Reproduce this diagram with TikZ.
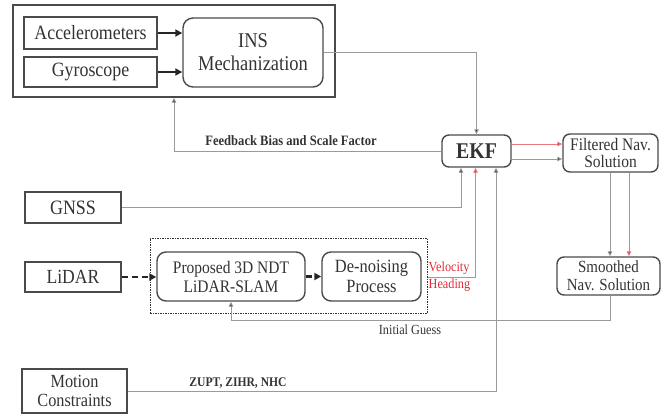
\documentclass[tikz,border=0pt]{standalone}
\usepackage{fontspec}
\setmainfont{Liberation Serif}
\newfontfamily\tallserif[FakeStretch=0.88]{Liberation Serif}
\usetikzlibrary{arrows.meta,calc}
\definecolor{txt}{HTML}{333333}
\definecolor{bord}{HTML}{4A4A4A}
\definecolor{conn}{HTML}{9A9A9A}
\definecolor{redtip}{HTML}{E02A35}
\definecolor{redline}{HTML}{E77A80}
\newcommand{\fs}[2]{\fontsize{#1}{#2}\selectfont}
\newcommand{\tfs}[2]{\tallserif\fontsize{#1}{#2}\selectfont}
\tikzset{
  box/.style={draw=bord, line width=1.4pt, text=txt, align=center, inner sep=0pt},
  rbox/.style={box, rounded corners=7pt},
  conline/.style={draw=conn, line width=0.9pt, -{Triangle[length=5pt,width=4.5pt,fill=black!85]}},
  redconn/.style={draw=redline, line width=0.9pt, -{Triangle[length=5pt,width=4.5pt,fill=redtip]}},
  fatarrow/.style={draw=black!85, line width=2.4pt, -{Triangle[length=7pt,width=7pt]}},
  fatdash/.style={fatarrow, dash pattern=on 6pt off 4pt},
  lbl/.style={text=txt, inner sep=0pt},
}
\begin{document}
\begin{tikzpicture}[x=1pt,y=-1pt]
\useasboundingbox (0,0) rectangle (670,416);
% top group
\node[box, minimum width=322pt, minimum height=92pt] (outer) at (174,51) {};
\node[box, minimum width=133pt, minimum height=32pt, font=\tfs{20.3}{22}] (acc) at (90.5,33) {Accelerometers};
\node[box, minimum width=133pt, minimum height=30pt, font=\tfs{20.3}{22}] (gyro) at (90.5,72) {Gyroscope};
\node[rbox, minimum width=140pt, minimum height=69pt, font=\tfs{21}{23}, rounded corners=10pt] (ins) at (253,52.5) {INS\\Mechanization};
% EKF and solutions
\node[rbox, minimum width=69pt, minimum height=32pt, font=\bfseries\tfs{22.5}{24}] (ekf) at (476.5,151) {EKF};
\node[rbox, minimum width=95pt, minimum height=38pt, font=\tfs{17.6}{17.5}] (filt) at (610.5,153) {Filtered Nav.\\Solution};
\node[rbox, minimum width=103pt, minimum height=38pt, font=\tfs{17}{18}] (smooth) at (608.5,276) {Smoothed\\Nav. Solution};
% sensors
\node[box, minimum width=96pt, minimum height=31pt, font=\tfs{20.4}{22}] (gnss) at (73,207.5) {GNSS};
\node[box, minimum width=96pt, minimum height=30pt, font=\tfs{20}{22}] (lidar) at (73,277) {LiDAR};
\node[box, minimum width=105pt, minimum height=44pt, font=\tfs{18.5}{19.5}] (mc) at (74.5,391) {Motion\\Constraints};
% LiDAR SLAM group
\node[draw=black!80, line width=1pt, dash pattern=on 1.5pt off 1pt, minimum width=277pt, minimum height=75pt, inner sep=0pt] (dotted) at (288.5,275.5) {};
\node[rbox, minimum width=148pt, minimum height=49pt, font=\tfs{17.6}{19}, rounded corners=9pt] (slam) at (231,276.5) {Proposed 3D NDT\\LiDAR-SLAM};
\node[rbox, minimum width=99pt, minimum height=49pt, font=\tfs{18.7}{20}, rounded corners=9pt] (denoise) at (371.5,276.5) {De-noising\\Process};
% connectors
\draw[fatarrow] (acc.east) -- (acc.east -| ins.west);
\draw[fatarrow] (gyro.east) -- (gyro.east -| ins.west);
\draw[conline] (ins.east) -| (ekf.north);
\draw[conline] (ekf.west) -| (outer.south);
\draw[redconn] ([yshift=7pt]ekf.east) -- ([yshift=7pt]ekf.east -| filt.west);
\draw[conline] ([yshift=-8pt]ekf.east) -- ([yshift=-8pt]ekf.east -| filt.west);
\draw[conline] ([xshift=-0.5pt]filt.south) -- ([xshift=-0.5pt]filt.south |- smooth.north);
\draw[redconn] ([xshift=18.5pt]filt.south) -- ([xshift=18.5pt]filt.south |- smooth.north);
\draw[conline] (gnss.east) -| ([xshift=-15.5pt]ekf.south);
\draw[redconn] ([yshift=-1.5pt]dotted.east) -| ([xshift=-1pt]ekf.south);
\draw[conline] (mc.east) -| ([xshift=19.5pt]ekf.south);
\draw[conline] ([xshift=1.5pt]smooth.south) -- ++(0,25) -| (slam.south);
\draw[fatdash] (lidar.east) -- (lidar.east -| slam.west);
\draw[fatdash] (slam.east) -- (denoise.west);
% labels
\node[lbl, font=\bfseries\tfs{14.3}{15}] (fblbl) at (291,141) {Feedback Bias and Scale Factor};
\node[lbl, anchor=west, text=redtip, font=\tfs{13.9}{15}] (vel) at (428.5,268) {Velocity};
\node[lbl, anchor=west, text=redtip, font=\tfs{13.9}{15}] (head) at (428.5,285) {Heading};
\node[lbl, font=\tfs{13.9}{15}] (iglbl) at (410,330) {Initial Guess};
\node[lbl, font=\bfseries\tfs{13.2}{15}] (zlbl) at (238,383) {ZUPT, ZIHR, NHC};
\end{tikzpicture}
\end{document}
